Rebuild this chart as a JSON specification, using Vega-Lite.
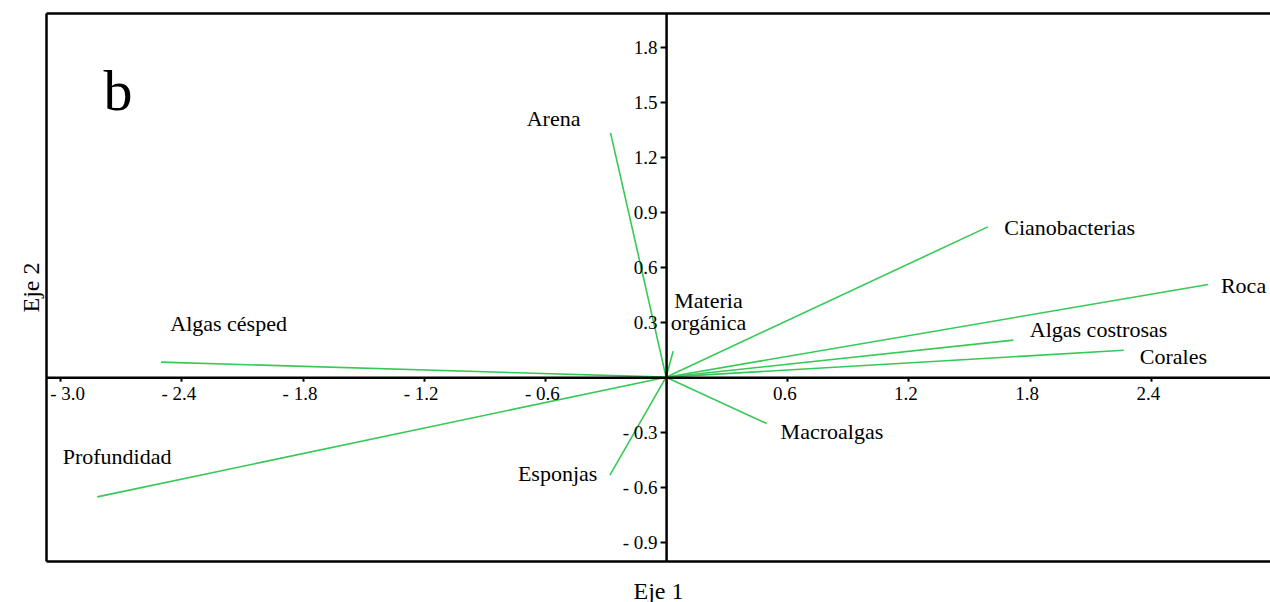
{
  "$schema": "https://vega.github.io/schema/vega-lite/v6.json",
  "width": 1224,
  "height": 548,
  "autosize": "none",
  "padding": {"left": 46, "top": 13, "right": 0, "bottom": 41},
  "background": "white",
  "datasets": {
    "vectors": [
      {"variable": "Algas césped", "label": "Algas césped", "x": -2.50, "y": 0.082, "lx": -2.166, "ly": 0.251},
      {"variable": "Profundidad", "label": "Profundidad", "x": -2.816, "y": -0.653, "lx": -2.718, "ly": -0.475},
      {"variable": "Arena", "label": "Arena", "x": -0.275, "y": 1.333, "lx": -0.557, "ly": 1.369},
      {"variable": "Materia orgánica", "label": ["Materia", "orgánica"], "x": 0.035, "y": 0.142, "lx": 0.21, "ly": 0.38},
      {"variable": "Cianobacterias", "label": "Cianobacterias", "x": 1.593, "y": 0.82, "lx": 1.998, "ly": 0.778},
      {"variable": "Roca", "label": "Roca", "x": 2.684, "y": 0.506, "lx": 2.859, "ly": 0.457},
      {"variable": "Algas costrosas", "label": "Algas costrosas", "x": 1.719, "y": 0.202, "lx": 2.141, "ly": 0.217},
      {"variable": "Corales", "label": "Corales", "x": 2.266, "y": 0.147, "lx": 2.512, "ly": 0.071},
      {"variable": "Macroalgas", "label": "Macroalgas", "x": 0.498, "y": -0.253, "lx": 0.821, "ly": -0.338},
      {"variable": "Esponjas", "label": "Esponjas", "x": -0.278, "y": -0.535, "lx": -0.537, "ly": -0.567}
    ],
    "panel": [
      {"label": "b", "lx": -2.713, "ly": 1.457}
    ]
  },
  "layer": [
    {
      "data": {"name": "vectors"},
      "mark": {"type": "rule", "color": "#36c956", "strokeWidth": 1.6},
      "encoding": {
        "x": {
          "field": "x", "type": "quantitative",
          "scale": {"domain": [-3.07, 2.99], "nice": false, "zero": false},
          "axis": {
            "orient": "bottom",
            "offset": {"expr": "-(height - scale('y', 0))"},
            "title": null,
            "values": [-3.0, -2.4, -1.8, -1.2, -0.6, 0.6, 1.2, 1.8, 2.4],
            "labelExpr": "datum.value < 0 ? '- ' + format(-datum.value, '.1f') : format(datum.value, '.1f')",
            "labelFontSize": 19,
            "labelPadding": 3,
            "labelOffset": {"condition": {"test": "datum.value < -2.9", "value": 7}, "value": -3},
            "tickSize": 4,
            "tickWidth": 2,
            "domainWidth": 2.5,
            "labelFlush": false,
            "labelOverlap": false,
            "zindex": 1
          }
        },
        "y": {
          "field": "y", "type": "quantitative",
          "scale": {"domain": [-1.003, 1.987], "nice": false, "zero": false},
          "axis": {
            "orient": "left",
            "offset": {"expr": "-scale('x', 0)"},
            "title": null,
            "values": [-0.9, -0.6, -0.3, 0.3, 0.6, 0.9, 1.2, 1.5, 1.8],
            "labelExpr": "datum.value < 0 ? '- ' + format(-datum.value, '.1f') : format(datum.value, '.1f')",
            "labelFontSize": 19,
            "labelPadding": 3,
            "tickSize": 6,
            "tickWidth": 2,
            "domainWidth": 2.5,
            "labelFlush": false,
            "labelOverlap": false,
            "zindex": 1
          }
        },
        "x2": {"datum": 0},
        "y2": {"datum": 0}
      }
    },
    {
      "data": {"name": "vectors"},
      "mark": {"type": "text", "font": "Liberation Serif", "fontSize": 22, "color": "black", "align": "center", "baseline": "alphabetic", "lineHeight": 22},
      "encoding": {
        "x": {
          "field": "lx", "type": "quantitative",
          "axis": {"orient": "top", "title": null, "labels": false, "ticks": false, "domainWidth": 2.5}
        },
        "y": {
          "field": "ly", "type": "quantitative",
          "axis": {"orient": "left", "title": "Eje 2", "titleFontSize": 24, "titlePadding": 3, "labels": false, "ticks": false, "domainWidth": 2.5}
        },
        "text": {"field": "label"}
      }
    },
    {
      "data": {"name": "panel"},
      "mark": {"type": "text", "font": "Liberation Serif", "fontSize": 58, "color": "black", "align": "center", "baseline": "alphabetic"},
      "encoding": {
        "x": {
          "field": "lx", "type": "quantitative",
          "axis": {"orient": "bottom", "title": "Eje 1", "titleFontSize": 24, "titlePadding": 18, "labels": false, "ticks": false, "domainWidth": 2.5}
        },
        "y": {"field": "ly", "type": "quantitative", "axis": null},
        "text": {"field": "label"}
      }
    }
  ],
  "resolve": {"axis": {"x": "independent", "y": "independent"}},
  "config": {
    "view": {"stroke": null},
    "axis": {
      "grid": false,
      "labelFont": "Liberation Serif",
      "titleFont": "Liberation Serif",
      "titleFontWeight": "normal",
      "labelColor": "black",
      "titleColor": "black",
      "domainColor": "black",
      "tickColor": "black"
    }
  }
}
